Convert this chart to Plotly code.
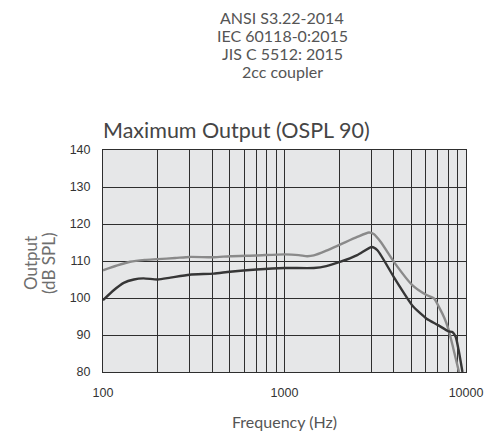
import plotly.graph_objects as go

# ---- Data ----
freq_light = [100, 120, 141, 170, 200, 250, 300, 407, 500, 700, 1000, 1200, 1334, 1450, 1700, 2037, 2515, 2917, 3100, 3384, 4043, 5058, 6068, 6660, 7090, 7600, 8000, 8500, 9150]
spl_light = [107.5, 108.8, 109.8, 110.3, 110.5, 110.8, 111.1, 111.0, 111.3, 111.5, 111.8, 111.6, 111.3, 111.5, 112.8, 114.5, 116.5, 117.7, 117.3, 115.2, 109.5, 103.5, 100.8, 99.9, 97.6, 94.6, 91.6, 86.5, 80.0]

freq_dark = [100, 114.5, 130, 148, 167, 200, 235, 300, 407, 500, 700, 1000, 1450, 1700, 2037, 2515, 3030, 3250, 4043, 5058, 5623, 6068, 7060, 8000, 8414, 8770, 9100, 9560]
spl_dark = [99.4, 102.1, 104.1, 105.0, 105.3, 105.0, 105.5, 106.3, 106.6, 107.1, 107.7, 108.1, 108.1, 108.6, 109.8, 111.6, 113.8, 112.9, 105.3, 98.0, 95.8, 94.4, 92.6, 91.0, 90.8, 89.5, 86.0, 80.0]

x_tickvals = [100, 1000, 10000]
x_ticktext = ["100", "1000", "10000"]
y_tickvals = [80, 90, 100, 110, 120, 130, 140]

header_lines = ["ANSI S3.22-2014", "IEC 60118-0:2015", "JIS C 5512: 2015", "2cc coupler"]
title_text = "Maximum Output (OSPL 90)"
x_title = "Frequency (Hz)"
y_title_lines = ["Output", "(dB SPL)"]

# ---- Layout geometry (window pixels) ----
W, H = 485, 440
ML, MR, MT, MB = 103, 19, 150, 68
PW, PH = W - ML - MR, H - MT - MB


def px_x(x):  # window pixel -> paper x
    return (x - ML) / PW


def px_y(y):  # window pixel -> paper y
    return (H - MB - y) / PH


GEO = "Lato, 'Open Sans', sans-serif"
HELV = "'Liberation Sans', Arial, Helvetica, sans-serif"

fig = go.Figure()
fig.add_trace(go.Scatter(x=freq_light, y=spl_light, mode="lines",
                         line=dict(color="#8a8a8a", width=2.4, shape="spline", smoothing=0.6),
                         showlegend=False, hoverinfo="skip"))
fig.add_trace(go.Scatter(x=freq_dark, y=spl_dark, mode="lines",
                         line=dict(color="#363636", width=2.4, shape="spline", smoothing=0.6),
                         showlegend=False, hoverinfo="skip"))

tick_font = dict(family=HELV, size=12.5, color="#333333")
grid_col = "#2e2e2e"

fig.update_xaxes(type="log", range=[2, 4], tickvals=x_tickvals, ticktext=x_ticktext,
                 showgrid=True, gridcolor=grid_col, gridwidth=1,
                 minor=dict(showgrid=True, gridcolor=grid_col, gridwidth=1, dtick="D1"),
                 showline=True, linecolor=grid_col, linewidth=1, mirror=True,
                 ticks="", tickfont=tick_font, zeroline=False, automargin=False,
                 ticklabelstandoff=9, ticklabeloverflow="allow")
fig.update_yaxes(range=[80, 140], tickvals=y_tickvals,
                 showgrid=True, gridcolor=grid_col, gridwidth=1,
                 showline=True, linecolor=grid_col, linewidth=1, mirror=True,
                 ticks="", tickfont=tick_font, zeroline=False, automargin=False,
                 ticklabelstandoff=9, ticklabeloverflow="allow")

# header lines
header_y = [17.5, 35.5, 53.5, 71.5]
for txt, yy in zip(header_lines, header_y):
    fig.add_annotation(text=txt, xref="paper", yref="paper", x=px_x(282), y=px_y(yy),
                       xanchor="center", yanchor="middle", showarrow=False,
                       font=dict(family=GEO, size=16, color="#555555"))

# chart title
fig.add_annotation(text=title_text, xref="paper", yref="paper", x=px_x(100.5), y=px_y(130.5),
                   xanchor="left", yanchor="middle", showarrow=False,
                   font=dict(family=GEO, size=21.5, color="#454545"))

# x axis title
fig.add_annotation(text=x_title, xref="paper", yref="paper", x=px_x(284), y=px_y(421),
                   xanchor="center", yanchor="middle", showarrow=False,
                   font=dict(family=GEO, size=16, color="#555555"))

# y axis title (two rotated lines)
for txt, xx in zip(y_title_lines, [30, 48]):
    fig.add_annotation(text=txt, xref="paper", yref="paper", x=px_x(xx), y=px_y(263),
                       xanchor="center", yanchor="middle", showarrow=False, textangle=-90,
                       font=dict(family=GEO, size=17, color="#6e6e6e"))

fig.update_layout(width=W, height=H, margin=dict(l=ML, r=MR, t=MT, b=MB),
                  paper_bgcolor="white", plot_bgcolor="#e6e7e8", hovermode=False)

# Remove the default page margin and scrollbars so the figure fills the window.
page_fix = ("document.documentElement.style.overflow='hidden';"
            "document.body.style.margin='0';"
            "document.body.style.overflow='hidden';")

fig.write_html("out.html", post_script=page_fix,
               config={"displayModeBar": False, "staticPlot": True})
